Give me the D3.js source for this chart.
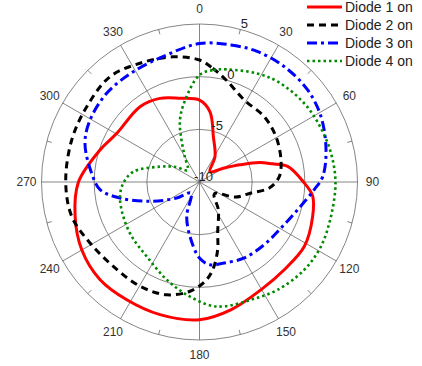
<!DOCTYPE html>
<html lang="en">
<head>
<meta charset="utf-8">
<title>Diode patterns</title>
<script src="https://d3js.org/d3.v7.min.js"></script>
<style>
  body { margin: 0; background: #fff; }
  text { font-family: "Liberation Sans", Arial, sans-serif; fill: #333; }
</style>
</head>
<body>
<script>
// canvas
const SvgWidth = 422
const SvgHeight = 366
const cx = 199.5, cy = 182, R = 158

// data (angle in degrees clockwise from top, gain in dB)
const seriesNames = ["Diode 1 on", "Diode 2 on", "Diode 3 on", "Diode 4 on"]

const diode1Angle = [0, 8.5, 17, 31.5, 45.5, 60, 67, 72, 76, 80, 90, 97, 107, 121.5, 136, 150, 166, 180, 196.6, 211.7, 225.5, 240, 254.6, 270, 287.8, 300.5, 321.7, 334.7, 347]
const diode1Gain  = [-2.22, -3.26, -5.5, -7.18, -8.61, -7.39, -5.83, -4.02, -2.88, -1.5, -0.13, 0.82, 1.23, 1.68, 1.58, 1.77, 2.48, 3.07, 3.14, 3.14, 3.23, 2.9, 2.25, 1.49, -0.08, -0.89, -0.89, -1.22, -1.84]

const diode2Angle = [0, 6.6, 14.6, 28.6, 44.8, 59.4, 74.9, 86.2, 94.9, 102, 112.8, 128, 146, 160.4, 165, 171.4, 176.8, 185, 196.2, 209.7, 225.6, 240.9, 254.9, 270, 288.2, 303.7, 319.6, 333.4, 348]
const diode2Gain  = [1.58, 0.87, 0.01, -1.13, -1.27, -1.56, -1.99, -2.41, -3.35, -5.0, -6.3, -8.2, -6.8, -4.86, -3.34, -1.58, -0.55, 0.41, 1.15, 1.39, 1.45, 1.9, 2.56, 2.7, 2.77, 2.87, 3.12, 2.61, 2.15]

const diode3Angle = [0, 12.9, 24.1, 36.3, 49.6, 61.7, 75.8, 87.5, 93.8, 105.8, 119.4, 134, 149.5, 163, 172.8, 180, 190, 200.5, 218, 234.9, 248.7, 258.6, 265.6, 274.6, 288.7, 299.5, 313.7, 329, 345.5]
const diode3Gain  = [3.15, 3.35, 3.55, 3.59, 3.48, 3.1, 2.39, 1.71, 0.92, -0.32, -1.11, -1.44, -1.63, -1.96, -2.08, -2.78, -4.77, -6.53, -8.67, -7.35, -4.96, -2.3, -0.53, 0.27, 1.48, 1.94, 2.19, 2.21, 2.46]

const diode4Angle = [0, 7, 13.6, 27.8, 38, 53.1, 66.2, 77.7, 90, 104.6, 117.9, 129.9, 144, 156.4, 168.7, 175, 186.5, 198.6, 215.4, 231.3, 245.8, 259.8, 269.2, 278.8, 291.2, 302, 315, 330, 337, 342.5, 350]
const diode4Gain  = [0.16, 0.71, 1.0, 1.66, 2.08, 2.44, 2.61, 2.78, 2.91, 2.9, 3.05, 2.98, 2.64, 2.2, 2.04, 1.77, 0.77, -0.22, -1.34, -1.75, -2.06, -2.33, -2.77, -3.64, -5.97, -7.3, -8.4, -7.2, -5.6, -3.83, -2.12]

const angleTicks = [0, 30, 60, 90, 120, 150, 180, 210, 240, 270, 300, 330]
const radialTicks = [-10, -5, 0, 5]

const colors = ["#ff0000", "#000000", "#0000ff", "#008a00"]
const dashes = [null, "7,5", "10,4,3,4", "2.5,3"]
const widths = [3, 3, 3, 2.6]

const rScale = d3.scaleLinear().domain([-10, 5]).range([0, R])
const rad = d => d * Math.PI / 180

var svg = d3.select("body").append("svg")
            .attr("width", SvgWidth)
            .attr("height", SvgHeight)

var g = svg.append("g").attr("transform", "translate(" + cx + "," + cy + ")")

// rings
g.selectAll(".ring")
  .data(radialTicks.slice(1))
  .enter().append("circle")
    .attr("r", d => rScale(d))
    .attr("fill", "none")
    .attr("stroke", "#666")
    .attr("stroke-width", 0.8)

// spokes
g.selectAll(".spoke")
  .data(angleTicks)
  .enter().append("line")
    .attr("x1", 0).attr("y1", 0)
    .attr("x2", d => R * Math.sin(rad(d)))
    .attr("y2", d => -R * Math.cos(rad(d)))
    .attr("stroke", "#666")
    .attr("stroke-width", 0.8)

// small ticks on the outer circle between spokes
g.selectAll(".minor")
  .data(angleTicks.map(d => d + 15))
  .enter().append("line")
    .attr("x1", d => R * Math.sin(rad(d)))
    .attr("y1", d => -R * Math.cos(rad(d)))
    .attr("x2", d => (R - 5) * Math.sin(rad(d)))
    .attr("y2", d => -(R - 5) * Math.cos(rad(d)))
    .attr("stroke", "#666")
    .attr("stroke-width", 0.8)

// angle labels
g.selectAll(".alabel")
  .data(angleTicks)
  .enter().append("text")
    .attr("x", d => 173 * Math.sin(rad(d)))
    .attr("y", d => -173 * Math.cos(rad(d)))
    .attr("text-anchor", "middle")
    .attr("dominant-baseline", "central")
    .style("font-size", "12px")
    .text(d => d)

// curves
const series = [
  d3.zip(diode1Angle, diode1Gain),
  d3.zip(diode2Angle, diode2Gain),
  d3.zip(diode3Angle, diode3Gain),
  d3.zip(diode4Angle, diode4Gain)
]

const line = d3.lineRadial()
    .angle(d => rad(d[0]))
    .radius(d => rScale(d[1]))
    .curve(d3.curveCatmullRomClosed.alpha(0.5))

g.selectAll(".curve")
  .data(series)
  .enter().append("path")
    .attr("d", line)
    .attr("fill", "none")
    .attr("stroke", (d, i) => colors[i])
    .attr("stroke-width", (d, i) => widths[i])
    .attr("stroke-dasharray", (d, i) => dashes[i])

// radial labels
g.selectAll(".rlabel")
  .data(radialTicks)
  .enter().append("text")
    .attr("x", d => rScale(d) * Math.sin(rad(15)) + 4)
    .attr("y", d => -rScale(d) * Math.cos(rad(15)) - 6)
    .attr("text-anchor", "middle")
    .attr("dominant-baseline", "central")
    .style("font-size", "13px")
    .style("fill", "#222")
    .text(d => d)

// legend
var legend = svg.append("g")
var rows = legend.selectAll("g")
  .data(seriesNames)
  .enter().append("g")
    .attr("transform", (d, i) => "translate(307," + (7 + i * 18) + ")")

rows.append("line")
    .attr("x1", 0).attr("x2", 35)
    .attr("y1", 0).attr("y2", 0)
    .attr("stroke", (d, i) => colors[i])
    .attr("stroke-width", (d, i) => widths[i])
    .attr("stroke-dasharray", (d, i) => dashes[i])

rows.append("text")
    .attr("x", 38)
    .attr("y", 0)
    .attr("dominant-baseline", "central")
    .style("font-size", "14px")
    .style("fill", "#222")
    .text(d => d)
</script>
</body>
</html>
